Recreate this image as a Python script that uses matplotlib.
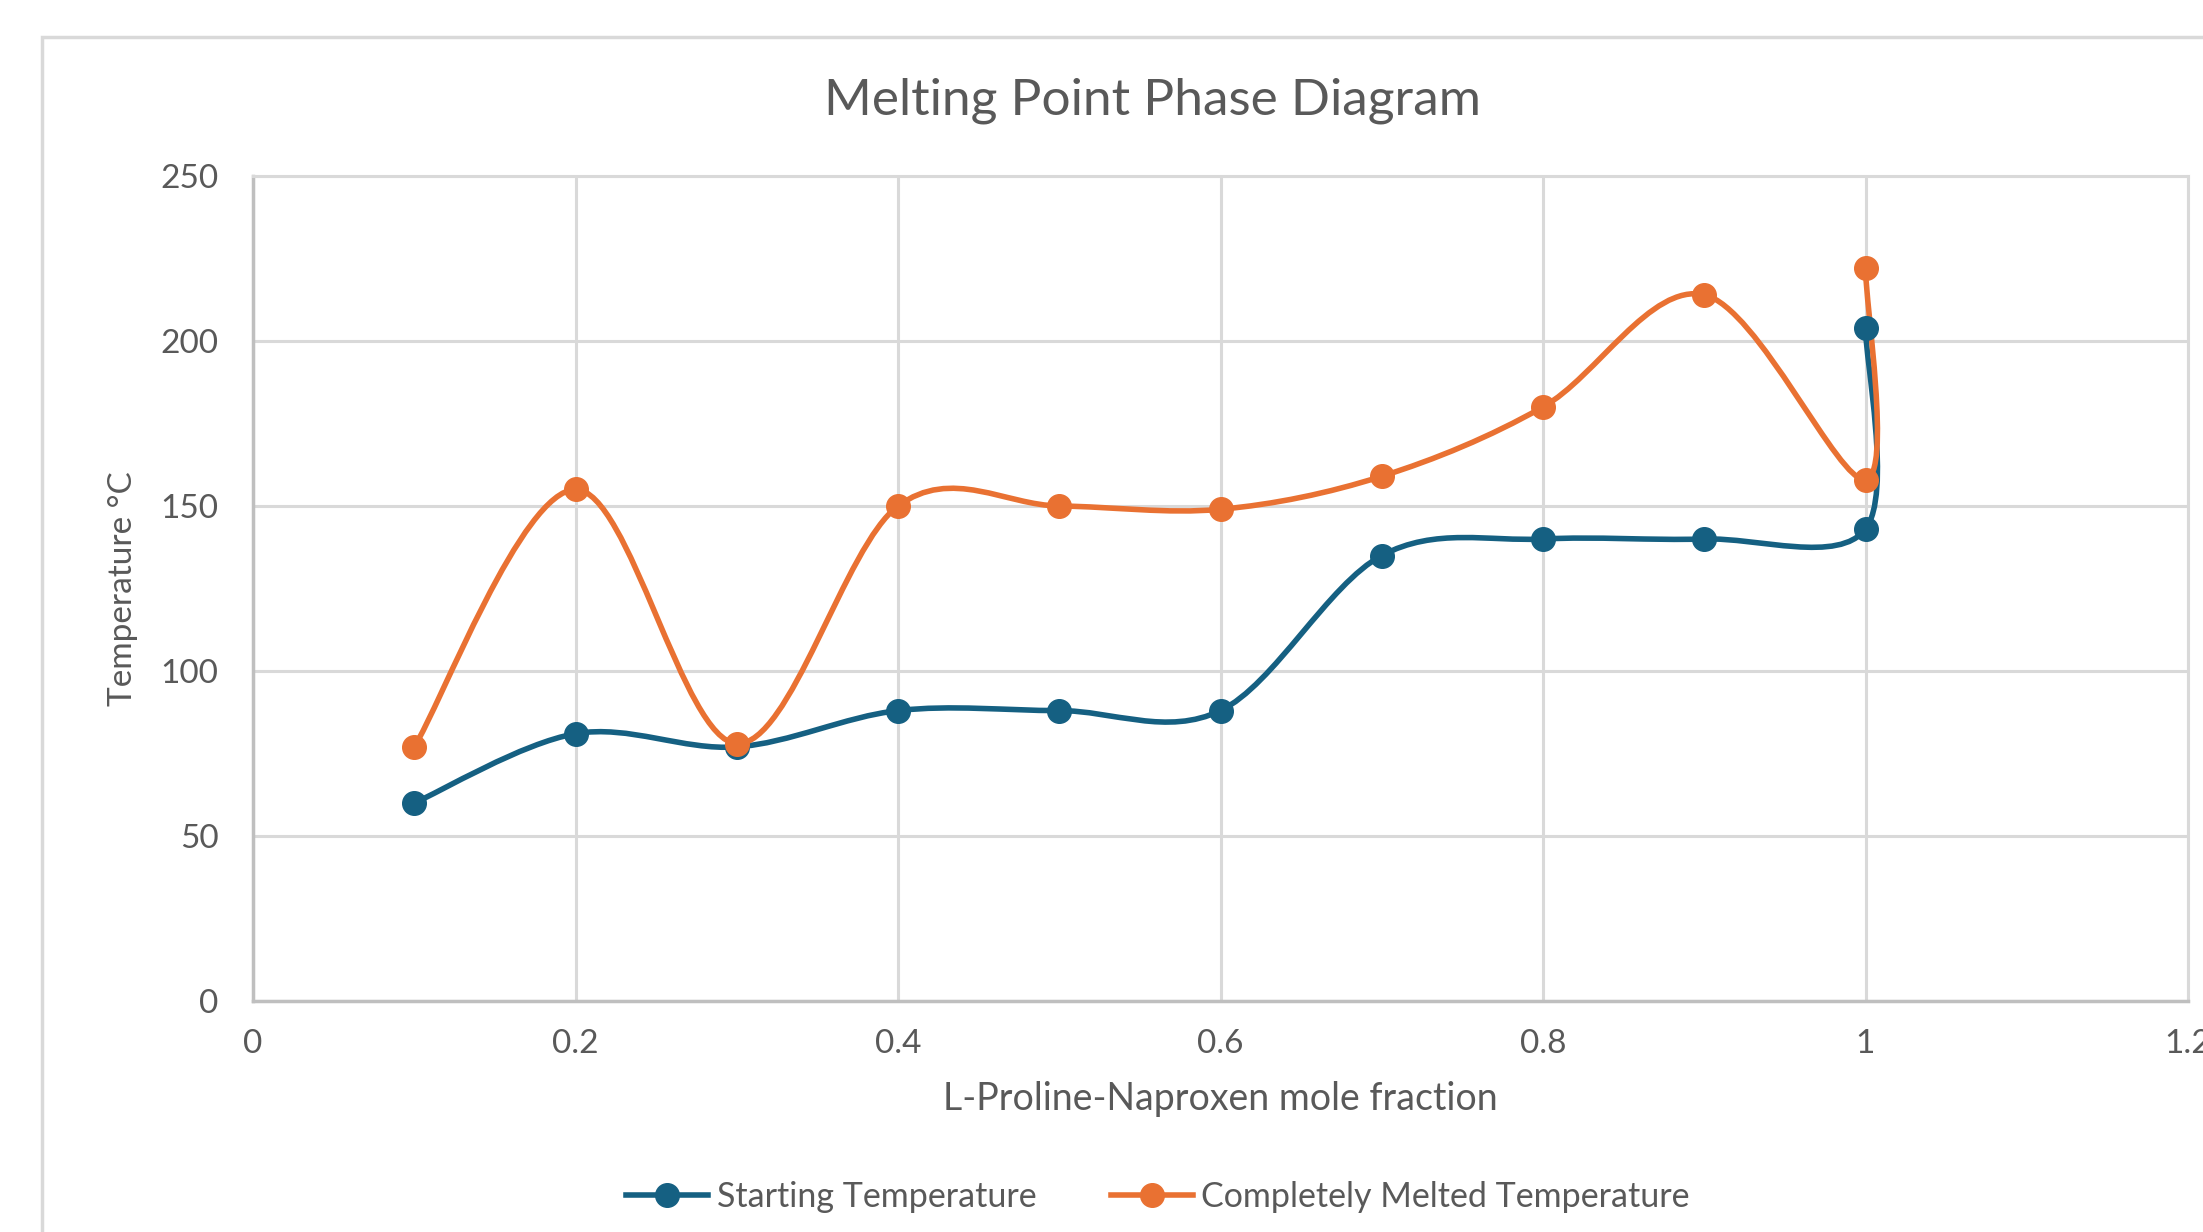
import numpy as np
import matplotlib.pyplot as plt
from matplotlib.path import Path
from matplotlib.patches import PathPatch, Rectangle

# data
mole_fraction = [0.1, 0.2, 0.3, 0.4, 0.5, 0.6, 0.7, 0.8, 0.9, 1.0, 1.0]
start_temp = [60, 81, 77, 88, 88, 88, 135, 140, 140, 143, 204]
melted_temp = [77, 155, 78, 150, 150, 149, 159, 180, 214, 158, 222]

x_ticks = [0, 0.2, 0.4, 0.6, 0.8, 1, 1.2]
x_tick_labels = ['0', '0.2', '0.4', '0.6', '0.8', '1', '1.2']
y_ticks = [0, 50, 100, 150, 200, 250]

BLUE = '#156082'
ORANGE = '#E97132'
TEXT = '#595959'
GRID = '#D9D9D9'

plt.rcParams['font.family'] = ['Lato', 'DejaVu Sans']


def smooth_path(xs, ys):
    # Excel-style smoothed line: cubic bezier with catmull-rom control points
    pts = np.column_stack([xs, ys]).astype(float)
    n = len(pts)
    verts = [pts[0]]
    codes = [Path.MOVETO]
    for i in range(n - 1):
        p0 = pts[i - 1] if i > 0 else pts[i]
        p1 = pts[i]
        p2 = pts[i + 1]
        p3 = pts[i + 2] if i + 2 < n else pts[i + 1]
        c1 = p1 + (p2 - p0) / 6.0
        c2 = p2 - (p3 - p1) / 6.0
        verts += [c1, c2, p2]
        codes += [Path.CURVE4] * 3
    return Path(verts, codes)


fig = plt.figure(figsize=(22.03, 12.32), dpi=100)

# chart frame (extends past the right and bottom of the picture)
fig.patches.append(Rectangle((42 / 2203, -0.1), 1.2, 1 - 37 / 1232 + 0.1,
                             transform=fig.transFigure, fill=False,
                             edgecolor=GRID, lw=2.5))

ax = fig.add_axes([253 / 2203, 1 - 1001 / 1232, (2188 - 253) / 2203, (1001 - 176) / 1232])

for ys, col, lab in [(start_temp, BLUE, 'Starting Temperature'),
                     (melted_temp, ORANGE, 'Completely Melted Temperature')]:
    ax.add_patch(PathPatch(smooth_path(mole_fraction, ys), facecolor='none',
                           edgecolor=col, lw=4, capstyle='round', zorder=3))
    ax.plot(mole_fraction, ys, linestyle='none', marker='o', ms=17, color=col, zorder=4)
    # proxy for legend
    ax.plot([], [], color=col, lw=4, marker='o', ms=17, label=lab)

ax.set_xlim(0, 1.2)
ax.set_ylim(0, 250)
ax.set_xticks(x_ticks)
ax.set_xticklabels(x_tick_labels)
ax.set_yticks(y_ticks)
ax.grid(True, color=GRID, lw=2.2, zorder=0)
ax.set_axisbelow(True)
ax.tick_params(length=0, labelsize=24, colors=TEXT)
ax.tick_params(axis='x', pad=20)
ax.tick_params(axis='y', pad=25)
for s in ['top', 'right']:
    ax.spines[s].set_color(GRID)
    ax.spines[s].set_linewidth(2.2)
for s in ['left', 'bottom']:
    ax.spines[s].set_color('#BFBFBF')
    ax.spines[s].set_linewidth(2.5)

ax.set_xlabel('L-Proline-Naproxen mole fraction', fontsize=27, color=TEXT, labelpad=16)
ax.set_ylabel('Temperature °C', fontsize=24, color=TEXT, labelpad=16)

fig.text(1152 / 2203, 1 - 101 / 1232, 'Melting Point Phase Diagram',
         ha='center', va='center', fontsize=37, color=TEXT)

fig.legend(loc='center', bbox_to_anchor=(1158 / 2203, 1 - 1197 / 1232), ncol=2,
           frameon=False, fontsize=24.5, labelcolor=TEXT, handlelength=2.4,
           handletextpad=0.25, columnspacing=2.2)

fig.savefig('out.png', dpi=100)
